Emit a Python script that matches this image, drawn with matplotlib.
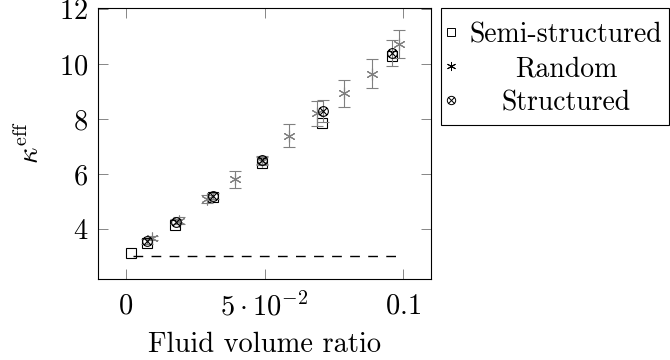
#!/usr/bin/env python3
"""Effective conductivity vs fluid volume ratio, pgfplots-like look."""

import numpy as np
import matplotlib
matplotlib.use("Agg")
import matplotlib.pyplot as plt
from matplotlib.path import Path
from matplotlib.lines import Line2D
from matplotlib.patches import Rectangle

# data
semi_x = [0.002, 0.0077, 0.0176, 0.0316, 0.049, 0.0706, 0.096]
semi_y = [3.12, 3.50, 4.15, 5.15, 6.39, 7.86, 10.27]

rand_x = [0.0094, 0.0193, 0.0292, 0.0394, 0.049, 0.059, 0.069, 0.0788, 0.0886, 0.0985]
rand_y = [3.66, 4.30, 5.08, 5.80, 6.48, 7.39, 8.20, 8.93, 9.64, 10.72]
rand_err = [0.08, 0.12, 0.15, 0.30, 0.15, 0.42, 0.44, 0.48, 0.53, 0.50]

struct_x = [0.0078, 0.018, 0.0316, 0.049, 0.071, 0.096]
struct_y = [3.55, 4.27, 5.20, 6.50, 8.27, 10.40]
struct_err = [0.08, 0.10, 0.12, 0.15, 0.40, 0.47]

base_x = [0.0025, 0.1]
base_y = [3.0, 3.0]

labels = ["Semi-structured", "Random", "Structured"]
xticks = [0, 0.05, 0.1]
xticklabels = [r"$0$", r"$5\cdot10^{-2}$", r"$0.1$"]
yticks = [4, 6, 8, 10, 12]

plt.rcParams["font.family"] = "serif"
plt.rcParams["font.serif"] = ["cmr10", "DejaVu Serif"]
plt.rcParams["mathtext.fontset"] = "cm"
plt.rcParams["axes.formatter.use_mathtext"] = True
FS = 20.5

# circle with a cross, like pgfplots "otimes"
r = np.sqrt(0.5)
cross = Path([(-r, -r), (r, r), (-r, r), (r, -r)],
             [Path.MOVETO, Path.LINETO, Path.MOVETO, Path.LINETO])
otimes = Path.make_compound_path(Path.unit_circle(), cross)
asterisk = (6, 2, 0)

W, H = 670, 360
fig = plt.figure(figsize=(W / 100, H / 100), dpi=100)
ax = fig.add_axes([98 / W, 1 - 279 / H, (431 - 98) / W, (279 - 7.5) / H])

grey = "0.5"
ax.plot(base_x, base_y, color="black", lw=1.0, ls=(0, (7, 6)))
ax.plot(semi_x, semi_y, ls="none", marker="s", ms=7.5, mfc="none",
        mec="black", mew=0.8)
ax.errorbar(rand_x, rand_y, yerr=rand_err, fmt="none", ecolor=grey,
            elinewidth=0.8, capsize=4, capthick=0.8)
ax.plot(rand_x, rand_y, ls="none", marker=asterisk, ms=8.5, color=grey, mew=0.8)
ax.errorbar(struct_x, struct_y, yerr=struct_err, fmt="none", ecolor=grey,
            elinewidth=0.8, capsize=4, capthick=0.8)
ax.plot(struct_x, struct_y, ls="none", marker=otimes, ms=7, mfc="none",
        mec="black", mew=0.8)

ax.set_xlim(-0.01, 0.11)
ax.set_ylim(2.18, 12.05)
ax.set_xticks(xticks)
ax.set_xticklabels(xticklabels)
ax.set_yticks(yticks)
ax.set_yticklabels([rf"${v}$" for v in yticks])
ax.tick_params(direction="in", length=7, width=0.6, color="0.45",
               top=True, right=True, labelsize=FS)
ax.tick_params(axis="x", pad=10)
ax.tick_params(axis="y", pad=7)
for s in ax.spines.values():
    s.set_linewidth(0.8)

ax.set_xlabel("Fluid volume ratio", fontsize=FS, labelpad=7)
ax.set_ylabel(r"$\kappa^{\mathrm{eff}}$", fontsize=FS, labelpad=10)

# legend box drawn by hand so the labels can be centred like pgfplots
tf = fig.transFigure
fig.add_artist(Rectangle((441 / W, 1 - 125 / H), 228 / W, 117 / H,
                         transform=tf, fill=False, ec="black", lw=0.8))
leg_marks = [dict(marker="s", ms=5.5, mfc="none"),
             dict(marker=asterisk, ms=6.5),
             dict(marker=otimes, ms=6, mfc="none")]
row_y = [32, 66, 100]
for lab, mk, yy in zip(labels, leg_marks, row_y):
    fig.add_artist(Line2D([451 / W], [1 - yy / H], transform=tf, ls="none",
                          color="black", mew=0.7, **mk))
    fig.text(566 / W, 1 - yy / H, lab, fontsize=FS - 0.5, ha="center",
             va="center_baseline")

fig.savefig("out.png", dpi=100)
